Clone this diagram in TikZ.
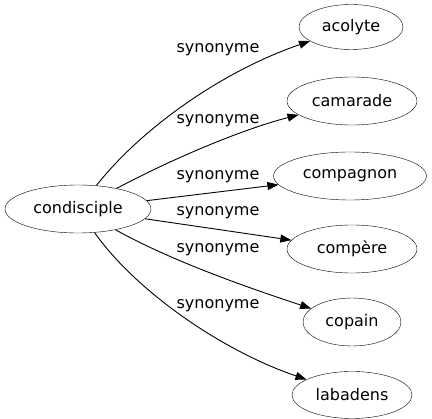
\documentclass[tikz,border=0pt]{standalone}
\usepackage{fontspec}
\setmainfont{DejaVu Sans}
\usetikzlibrary{arrows.meta,shapes.geometric}
\begin{document}
\begin{tikzpicture}[x=1pt,y=-1pt,
  word/.style={draw,ellipse,inner sep=0pt,font=\fontsize{16}{19}\selectfont},
  lbl/.style={font=\fontsize{16}{19}\selectfont,inner sep=0pt},
  edge/.style={-{Triangle[length=11pt,width=8pt]},line width=0.9pt}]
\useasboundingbox (0,0) rectangle (432,419);
\node[word,minimum width=146pt,minimum height=48pt] (c) at (78,209) {condisciple};
\node[word,minimum width=104pt,minimum height=45pt] (a1) at (351,27) {acolyte};
\node[word,minimum width=130pt,minimum height=48pt] (a2) at (352,101) {camarade};
\node[word,minimum width=153pt,minimum height=48pt] (a3) at (350,176) {compagnon};
\node[word,minimum width=130pt,minimum height=48pt] (a4) at (352,249) {compère};
\node[word,minimum width=98pt,minimum height=48pt] (a5) at (352,322) {copain};
\node[word,minimum width=120pt,minimum height=47pt] (a6) at (352,395) {labadens};
\draw[edge] (c) .. controls (140,130) and (220,72) .. (a1);
\draw[edge] (c) .. controls (170,160) and (240,130) .. (a2);
\draw[edge] (c) -- (a3);
\draw[edge] (c) -- (a4);
\draw[edge] (c) .. controls (170,260) and (240,285) .. (a5);
\draw[edge] (c) .. controls (135,290) and (220,350) .. (a6);
\node[lbl] (l1) at (218,50) {synonyme};
\node[lbl] (l2) at (218,121) {synonyme};
\node[lbl] (l3) at (218,177) {synonyme};
\node[lbl] (l4) at (218,213) {synonyme};
\node[lbl] (l5) at (218,250) {synonyme};
\node[lbl] (l6) at (218,306) {synonyme};
\end{tikzpicture}
\end{document}
